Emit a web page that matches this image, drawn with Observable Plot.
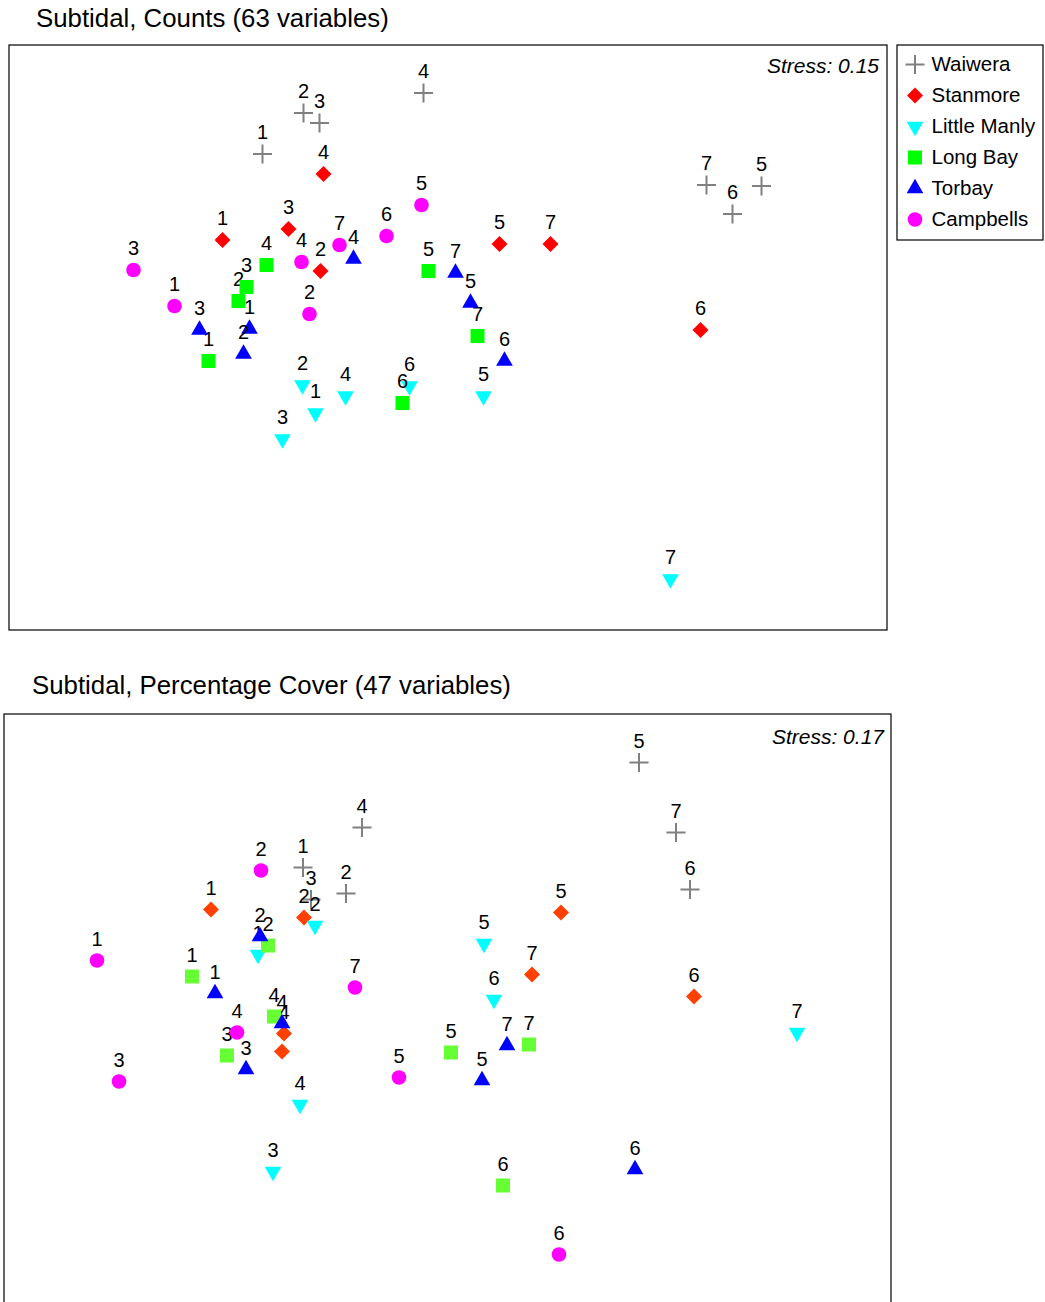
<!DOCTYPE html>
<html>
<head>
<meta charset="utf-8">
<script src="https://cdn.jsdelivr.net/npm/d3@7"></script>
<script src="https://cdn.jsdelivr.net/npm/@observablehq/plot@0.6"></script>
<style>
  html, body { margin: 0; padding: 0; background: #fff; overflow: hidden; }
  #page { position: relative; width: 1045px; height: 1302px; font-family: "Liberation Sans", Arial, sans-serif; color: #000; }
  .title { position: absolute; font-size: 25.8px; line-height: 30px; white-space: nowrap; }
  .box { position: absolute; }
  .box svg { display: block; }
</style>
</head>
<body>
<div id="page"></div>
<script>
// Sites and sample numbers (1–7 at each site)
const sites = ["Waiwera", "Stanmore", "Little Manly", "Long Bay", "Torbay", "Campbells"];
const sampleNumbers = [1, 2, 3, 4, 5, 6, 7];

const panelTitles = ["Subtidal, Counts (63 variables)", "Subtidal, Percentage Cover (47 variables)"];
const stressLabels = ["Stress: 0.15", "Stress: 0.17"];

// MDS ordination, subtidal counts: [x, y] for samples 1–7
const countsWaiwera     = [[-1.85, 1.83], [-1.44, 2.24], [-1.28, 2.14], [-0.24, 2.44], [3.14, 1.51], [2.85, 1.23], [2.59, 1.52]];
const countsStanmore    = [[-2.25, 0.97], [-1.27, 0.66], [-1.59, 1.08], [-1.24, 1.63], [0.52, 0.93], [2.53, 0.07], [1.03, 0.93]];
const countsLittleManly = [[-1.32, -0.76], [-1.45, -0.48], [-1.65, -1.02], [-1.02, -0.59], [0.36, -0.59], [-0.38, -0.49], [2.23, -2.42]];
const countsLongBay     = [[-2.39, -0.24], [-2.09, 0.36], [-2.01, 0.50], [-1.81, 0.72], [-0.19, 0.66], [-0.45, -0.66], [0.30, 0.01]];
const countsTorbay      = [[-1.98, 0.08], [-2.04, -0.17], [-2.48, 0.07], [-0.94, 0.78], [0.23, 0.34], [0.57, -0.24], [0.08, 0.64]];
const countsCampbells   = [[-2.73, 0.31], [-1.38, 0.23], [-3.14, 0.67], [-1.46, 0.75], [-0.26, 1.32], [-0.61, 1.01], [-1.08, 0.92]];

// MDS ordination, subtidal percentage cover: [x, y] for samples 1–7
const coverWaiwera     = [[-1.44, 1.43], [-1.01, 1.17], [-1.36, 1.11], [-0.85, 1.83], [1.92, 2.48], [2.43, 1.21], [2.29, 1.78]];
const coverStanmore    = [[-2.36, 1.01], [-1.43, 0.93], [-1.65, -0.41], [-1.63, -0.23], [1.14, 0.98], [2.47, 0.14], [0.85, 0.36]];
const coverLittleManly = [[-1.89, 0.56], [-1.32, 0.85], [-1.74, -1.61], [-1.47, -0.94], [0.37, 0.67], [0.47, 0.11], [3.50, -0.22]];
const coverLongBay     = [[-2.55, 0.34], [-1.79, 0.65], [-2.20, -0.45], [-1.73, -0.06], [0.04, -0.42], [0.56, -1.75], [0.82, -0.34]];
const coverTorbay      = [[-2.32, 0.17], [-1.87, 0.74], [-2.01, -0.59], [-1.65, -0.13], [0.35, -0.70], [1.88, -1.59], [0.60, -0.35]];
const coverCampbells   = [[-3.50, 0.50], [-1.86, 1.40], [-3.28, -0.71], [-2.10, -0.22], [-0.48, -0.67], [1.12, -2.44], [-0.92, 0.23]];

// Marker styles per site
const siteSymbols = ["plus", "square", "triangle", "square", "triangle", "circle"];
const siteRotate  = [0, 45, 180, 0, 0, 0];
const siteRadius  = [6.2, 6.4, 6.2, 7.9, 6.2, 7.3];
const countsColors = ["#808080", "#ff0000", "#00ffff", "#00ff00", "#0000ff", "#ff00ff"];
const coverColors  = ["#808080", "#ff4000", "#00ffff", "#66ff33", "#0000ff", "#ff00ff"];

const FONT = '"Liberation Sans", Arial, sans-serif';

function rowsFor(arrays) {
  return sites.map((site, i) => arrays[i].map(([x, y], j) => ({site, si: i, n: sampleNumbers[j], x, y})));
}

function markerOptions(i, colors) {
  const isStroke = siteSymbols[i] === "plus";
  return {
    symbol: siteSymbols[i],
    r: siteRadius[i],
    rotate: siteRotate[i],
    fill: isStroke ? "none" : colors[i],
    stroke: isStroke ? colors[i] : "none",
    strokeWidth: isStroke ? 2 : 0
  };
}

function panel({rows, colors, stress, width, height, xDomain, yDomain, stressDx, stressDy}) {
  const marks = [Plot.frame({stroke: "#000", strokeWidth: 1.2})];
  // each sample: marker, then its number above it
  rows.forEach((siteRows, i) => {
    siteRows.forEach(d => {
      marks.push(Plot.dot([d], {x: "x", y: "y", ...markerOptions(i, colors)}));
      marks.push(Plot.text([d], {x: "x", y: "y", text: "n", dy: -21, fontSize: 20, fill: "#000"}));
    });
  });
  marks.push(Plot.text([stress], {
    frameAnchor: "top-right", textAnchor: "end", lineAnchor: "middle",
    dx: stressDx, dy: stressDy, fontSize: 21, fontStyle: "italic", fill: "#000"
  }));
  return Plot.plot({
    width, height, margin: 1.5,
    x: {axis: null, domain: xDomain},
    y: {axis: null, domain: yDomain},
    style: {fontFamily: FONT, background: "transparent", overflow: "visible"},
    marks
  });
}

function legend(colors) {
  const marks = [Plot.frame({stroke: "#000", strokeWidth: 1.2})];
  sites.forEach((site, i) => {
    marks.push(Plot.dot([site], {y: d => d, frameAnchor: "left", dx: 18, ...markerOptions(i, colors)}));
    marks.push(Plot.text([site], {y: d => d, text: d => d, frameAnchor: "left", textAnchor: "start", dx: 34.5, fontSize: 20.5, fill: "#000"}));
  });
  return Plot.plot({
    width: 149, height: 198, margin: 1.5,
    y: {type: "point", axis: null, domain: sites, range: [21, 176], padding: 0},
    style: {fontFamily: FONT, background: "transparent", overflow: "visible"},
    marks
  });
}

const page = document.getElementById("page");
function place(node, left, top, cls) {
  const div = document.createElement("div");
  div.className = cls;
  div.style.left = left + "px";
  div.style.top = top + "px";
  if (typeof node === "string") div.textContent = node; else div.appendChild(node);
  page.appendChild(div);
}

place(panelTitles[0], 36, 3, "title");
place(panel({
  rows: rowsFor([countsWaiwera, countsStanmore, countsLittleManly, countsLongBay, countsTorbay, countsCampbells]),
  colors: countsColors, stress: stressLabels[0],
  width: 881, height: 588, xDomain: [-4.385, 4.395], yDomain: [-2.93, 2.92],
  stressDx: -8, stressDy: 21
}), 7, 43, "box");
place(legend(countsColors), 895, 43, "box");

place(panelTitles[1], 32, 670, "title");
place(panel({
  rows: rowsFor([coverWaiwera, coverStanmore, coverLittleManly, coverLongBay, coverTorbay, coverCampbells]),
  colors: coverColors, stress: stressLabels[1],
  width: 890, height: 597, xDomain: [-4.43, 4.44], yDomain: [-2.975, 2.965],
  stressDx: -7, stressDy: 23
}), 2, 712, "box");
</script>
</body>
</html>
